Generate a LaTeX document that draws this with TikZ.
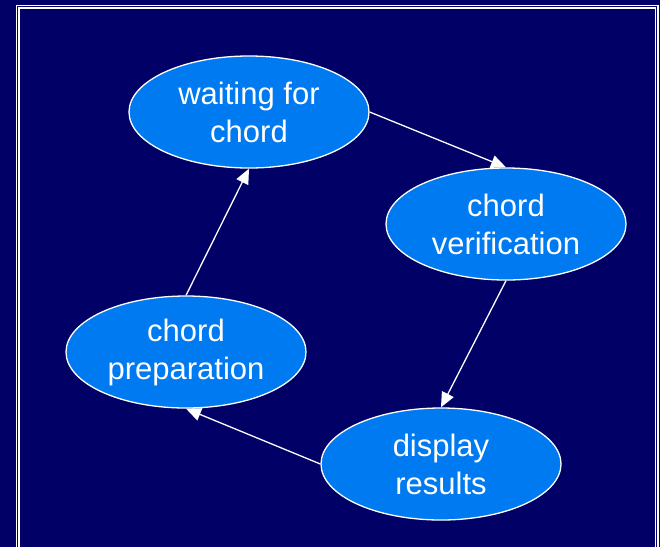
\documentclass[tikz,border=0pt]{standalone}
\usepackage{fontspec}
\setmainfont{Liberation Sans}
\usetikzlibrary{shapes.geometric,arrows.meta}
\definecolor{bgnavy}{RGB}{0,0,102}
\definecolor{ellblue}{RGB}{0,122,240}
\tikzset{
  state/.style={ellipse, draw=white, line width=1.3pt, fill=ellblue,
    minimum width=240pt, minimum height=112pt, inner sep=0pt,
    text=white, align=center,
    font=\fontsize{31}{38}\selectfont},
  flow/.style={draw=white, line width=1.3pt, -{Triangle[length=15pt,width=13pt]}, shorten >=0pt},
  frame/.style={draw=white, line width=1.2pt}
}
\begin{document}
\begin{tikzpicture}[x=1pt,y=-1pt]
\fill[bgnavy] (0,0) rectangle (660,547);
\useasboundingbox (0,0) rectangle (660,547);
\draw[frame] (16.5,5.5) -- (658,5.5) -- (658,560) -- (16.5,560) -- cycle;
\draw[frame] (19,8) -- (655.5,8) -- (655.5,560) -- (19,560) -- cycle;
\node[state] (wait) at (249,112) {waiting for\\chord};
\node[state] (verif) at (506,224) {chord\\verification};
\node[state] (prep) at (186,352) {chord\\preparation};
\node[state] (disp) at (441,464) {display\\results};
\draw[flow] (wait.east) -- (verif.north);
\draw[flow] (verif.south) -- (disp.north);
\draw[flow] (disp.west) -- (prep.south);
\draw[flow] (prep.north) -- (wait.south);
\end{tikzpicture}
\end{document}
